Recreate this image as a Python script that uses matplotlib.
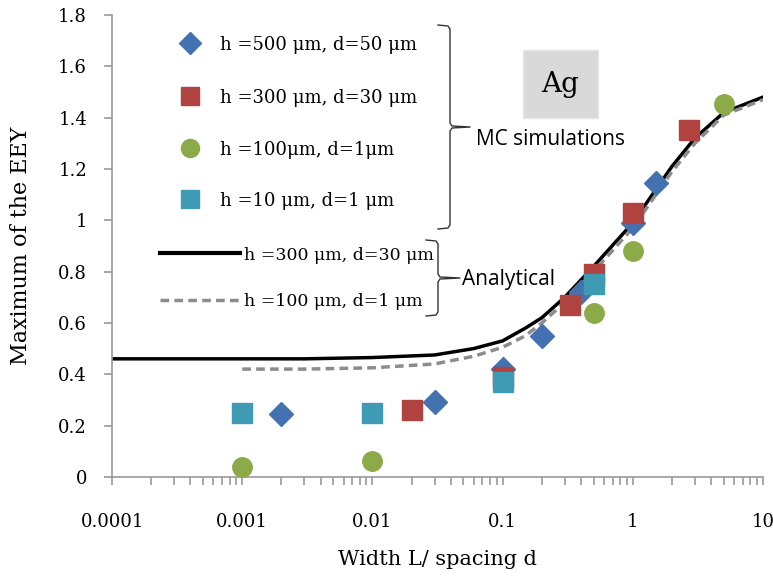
import matplotlib.pyplot as plt
from matplotlib.patches import Rectangle

# MC simulation points (x = width L / spacing d, y = max EEY)
x_500 = [0.002, 0.03, 0.1, 0.2, 0.4, 1.0, 1.5]
y_500 = [0.245, 0.29, 0.42, 0.55, 0.72, 0.99, 1.145]
x_300 = [0.02, 0.1, 0.33, 0.5, 1.0, 2.7]
y_300 = [0.26, 0.39, 0.67, 0.79, 1.03, 1.35]
x_100 = [0.001, 0.01, 0.5, 1.0, 5.0]
y_100 = [0.04, 0.06, 0.64, 0.88, 1.455]
x_10 = [0.001, 0.01, 0.1, 0.5]
y_10 = [0.25, 0.25, 0.37, 0.75]

# analytical curves
xa_300 = [1e-4, 1e-3, 3e-3, 0.01, 0.03, 0.06, 0.1, 0.15, 0.2, 0.3, 0.5, 1, 2, 3, 5, 10]
ya_300 = [0.46, 0.46, 0.46, 0.465, 0.475, 0.50, 0.53, 0.58, 0.62, 0.70, 0.82, 0.99, 1.21, 1.32, 1.42, 1.48]
xa_100 = [1e-3, 3e-3, 0.01, 0.03, 0.06, 0.1, 0.15, 0.2, 0.3, 0.5, 1, 2, 3, 5, 10]
ya_100 = [0.42, 0.42, 0.425, 0.44, 0.47, 0.505, 0.55, 0.60, 0.68, 0.80, 0.97, 1.19, 1.30, 1.41, 1.47]

labels = ["h =500 μm, d=50 μm", "h =300 μm, d=30 μm", "h =100μm, d=1μm",
          "h =10 μm, d=1 μm", "h =300 μm, d=30 μm", "h =100 μm, d=1 μm"]
xticks = [1e-4, 1e-3, 1e-2, 1e-1, 1, 10]
xticklabels = ["0.0001", "0.001", "0.01", "0.1", "1", "10"]

blue, red, green, teal = "#4472B0", "#B0433F", "#8CAA48", "#3F9BB3"
serif = "DejaVu Serif"

fig = plt.figure(figsize=(7.73, 5.78), dpi=100)
ax = fig.add_axes([0.145, 0.175, 0.842, 0.799])

ax.plot(xa_300, ya_300, color="black", lw=2.5, zorder=2)
ax.plot(xa_100, ya_100, color="#8c8c8c", lw=2.5, ls=(0, (2.5, 1.5)), zorder=3)
ax.plot(x_500, y_500, "D", color=blue, ms=12, zorder=4)
ax.plot(x_300, y_300, "s", color=red, ms=14, zorder=5)
ax.plot(x_100, y_100, "o", color=green, ms=14, zorder=6)
ax.plot(x_10, y_10, "s", color=teal, ms=14, zorder=7)

ax.set_xscale("log")
ax.set_xlim(1e-4, 10)
ax.set_ylim(0, 1.8)
ax.set_xticks(xticks)
ax.set_xticklabels(xticklabels)
ax.set_yticks([0, 0.2, 0.4, 0.6, 0.8, 1, 1.2, 1.4, 1.6, 1.8])
ax.set_yticklabels(["0", "0.2", "0.4", "0.6", "0.8", "1", "1.2", "1.4", "1.6", "1.8"])
for s in ["top", "right"]:
    ax.spines[s].set_visible(False)
for s in ["left", "bottom"]:
    ax.spines[s].set_color("#999999")
    ax.spines[s].set_linewidth(1.2)
ax.tick_params(which="both", color="#999999", width=1.2, direction="out")
ax.tick_params(which="major", length=6, labelsize=13)
ax.tick_params(which="minor", length=6)
ax.tick_params(axis="x", which="major", pad=20)
ax.tick_params(axis="y", which="major", pad=12)
for t in ax.get_xticklabels() + ax.get_yticklabels():
    t.set_family(serif)
ax.set_xlabel("Width L/ spacing d", family=serif, fontsize=15, labelpad=14)
ax.set_ylabel("Maximum of the EEY", family=serif, fontsize=16, labelpad=19)

# hand-made legend, in figure pixels (origin top-left)
W, H = 773, 578
def fx(px):
    return px / W
def fy(py):
    return 1 - py / H

leg_y = [43, 96, 148, 199]
leg_style = [("D", blue, 11), ("s", red, 13), ("o", green, 13), ("s", teal, 13)]
for i, (m, c, ms) in enumerate(leg_style):
    fig.add_artist(plt.Line2D([fx(190)], [fy(leg_y[i])], marker=m, color=c, ms=ms,
                              transform=fig.transFigure))
    fig.text(fx(220), fy(leg_y[i] + 2), labels[i], family=serif, fontsize=13, va="center")

fig.add_artist(plt.Line2D([fx(160), fx(240)], [fy(253), fy(253)], color="black", lw=3,
                          transform=fig.transFigure))
fig.add_artist(plt.Line2D([fx(160), fx(240)], [fy(300), fy(300)], color="#8c8c8c", lw=2.5,
                          ls=(0, (2.5, 1.5)), transform=fig.transFigure))
fig.text(fx(244), fy(255), labels[4], family=serif, fontsize=12.5, va="center")
fig.text(fx(244), fy(302), labels[5], family=serif, fontsize=12.5, va="center")

# braces
def brace(x0, top, bot, tip_x, mid):
    xs = [x0 - 12, x0 - 2, x0, x0, x0 + 2, tip_x, x0 + 2, x0, x0, x0 - 2, x0 - 12]
    ys = [top, top + 1, top + 4, mid - 4, mid - 1, mid, mid + 1, mid + 4, bot - 4, bot - 1, bot]
    fig.add_artist(plt.Line2D([fx(v) for v in xs], [fy(v) for v in ys], color="#333333",
                              lw=1.0, transform=fig.transFigure))

brace(450, 25, 229, 470, 127)
brace(438, 240, 316, 460, 278)
fig.text(fx(476), fy(140), "MC simulations", family="Open Sans", fontsize=15, va="center")
fig.text(fx(462), fy(279), "Analytical", family="Open Sans", fontsize=15, va="center")

fig.add_artist(Rectangle((fx(523), fy(118)), fx(75), 68 / H, transform=fig.transFigure,
                         facecolor="#d9d9d9", edgecolor="#e6e6e6"))
fig.text(fx(560), fy(84), "Ag", family=serif, fontsize=20, ha="center", va="center")

fig.savefig("out.png", dpi=100)
